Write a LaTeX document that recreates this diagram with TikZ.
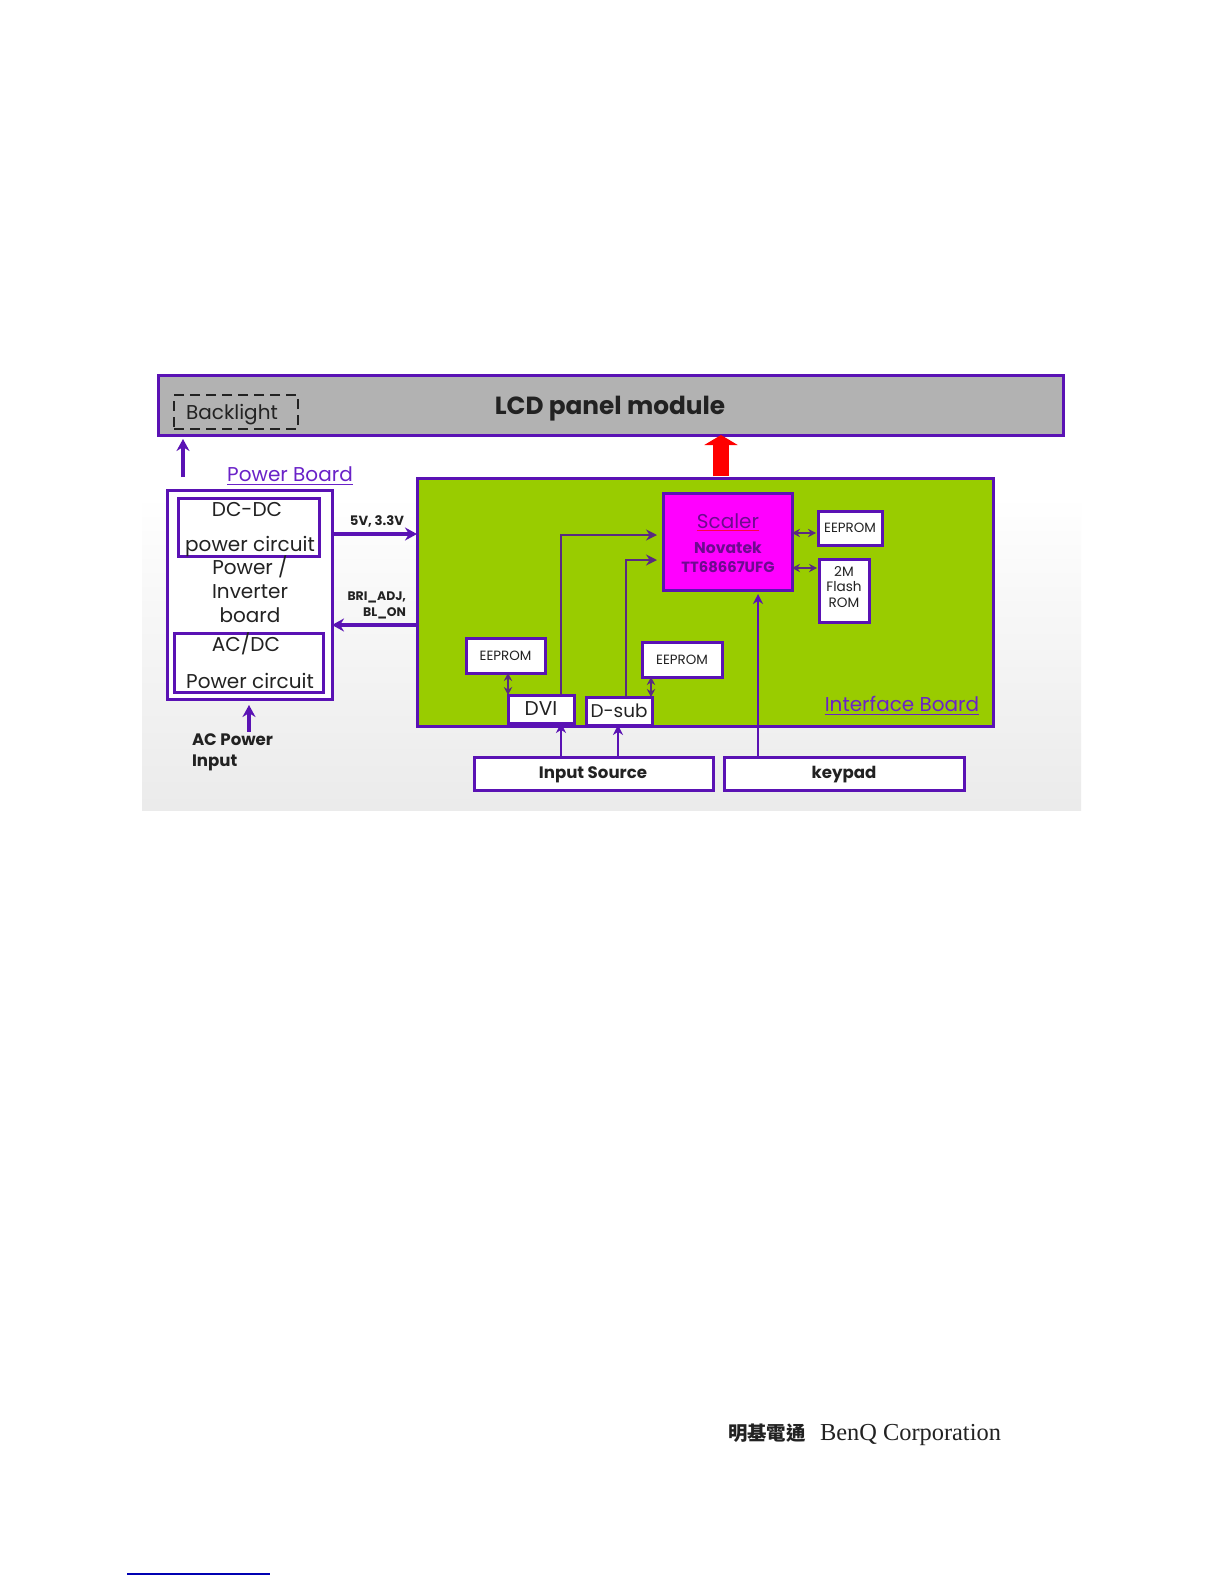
\documentclass[tikz,border=0pt]{standalone}
\usepackage{fontspec}
\setmainfont{Poppins}
\newfontfamily\cjkfont{Noto Sans CJK TC}
\newfontfamily\serifcorp{Liberation Serif}
\usetikzlibrary{arrows.meta,calc}
\definecolor{vio}{HTML}{5A12B4}
\definecolor{vtext}{HTML}{6A22C8}
\definecolor{lime}{HTML}{99CC00}
\definecolor{mag}{HTML}{FF00FF}
\definecolor{panel}{HTML}{B2B2B2}
\definecolor{ink}{HTML}{222222}
\definecolor{scink}{HTML}{6E0A90}
\definecolor{inner}{HTML}{5A2A80}
\pgfdeclareverticalshading{bgshade}{100bp}{color(0bp)=(white!95!black); color(20bp)=(white!91!black); color(48bp)=(white!97!black); color(60bp)=(white); color(100bp)=(white)}
\tikzset{
  x=0.5pt,y=-0.5pt,
  box/.style={draw=vio,line width=1.5pt,fill=white,inner sep=0pt,outer sep=0pt,text=ink,align=center},
  txt/.style={inner sep=0pt,outer sep=0pt,text=ink,align=center},
  arr/.style={draw=vio,line width=1.6pt,-{Stealth[length=6pt,width=6.5pt]}},
  in arr/.style={draw=inner,line width=1.3pt,-{Stealth[length=5.5pt,width=5.5pt]}},
  thin arr/.style={draw=vio,line width=1.2pt,-{Stealth[length=5pt,width=5pt]}},
  dbl/.style={draw=inner,line width=1pt,{Stealth[length=4pt,width=4.2pt]}-{Stealth[length=4pt,width=4.2pt]}},
  big/.style={font=\fontsize{10}{12}\selectfont},
  small/.style={font=\fontsize{6.7}{8}\selectfont},
  strong/.style={font=\fontsize{8.3}{10}\selectfont\bfseries},
}
\newcommand{\pxbox}[7][]{%
  \pgfmathsetmacro{\bw}{(#5-#3)*0.5}%
  \pgfmathsetmacro{\bh}{(#6-#4)*0.5}%
  \node[box,minimum width=\bw pt,minimum height=\bh pt,#1] (#2) at ({(#3+#5)/2},{(#4+#6)/2}) {#7};}
\begin{document}
\begin{tikzpicture}
\useasboundingbox (0,0) rectangle (1224,1584);
\fill[white] (0,0) rectangle (1224,1584);
\shade[shading=bgshade] (142,360) rectangle (1081,810);

% panel
\pxbox[fill=panel]{lcd}{158}{375}{1063}{435}{}
\pxbox[draw=ink,dashed,fill=none,line width=1.3pt,dash pattern=on 5pt off 3pt]{back}{174}{395}{298}{429}{}
\node[txt,big] (backt) at (232,415) {Backlight};
\node[txt,font=\fontsize{12.4}{15}\selectfont\bfseries] (lcdt) at (610,409) {LCD panel module};

% power board
\node[txt,text=vtext,font=\fontsize{10}{12}\selectfont] (pbt) at (290,474) {Power Board};
\draw[vtext,line width=0.6pt] (pbt.south west) ++(0,3) coordinate (pbl) -- (pbl -| pbt.south east);
\pxbox{pow}{167}{490}{332}{699}{}
\pxbox[fill=none]{dc}{178}{498}{319}{556}{}
\node[txt,big] (dct1) at (247,509) {DC-DC};
\node[txt,big] (dct2) at (250,546) {power circuit};
\node[txt,font=\fontsize{10}{11.9}\selectfont] (pit) at (250,589) {Power /\\Inverter\\board};
\pxbox[fill=none]{ac}{174}{633}{323}{692}{}
\node[txt,big] (act1) at (246,644) {AC/DC};
\node[txt,big] (act2) at (250,681) {Power circuit};
\node[txt,align=left,anchor=west,font=\fontsize{8.3}{10.4}\selectfont\bfseries] (acin) at (192,752) {AC Power\\Input};

% interface board
\pxbox[fill=lime]{ifb}{417}{478}{993}{726}{}
\node[txt,text=vtext,font=\fontsize{10}{12}\selectfont] (ifbt) at (902,704) {Interface Board};
\draw[vtext,line width=0.6pt] (ifbt.south west) ++(0,3) coordinate (ifl) -- (ifl -| ifbt.south east);
\pxbox[fill=mag]{scaler}{663}{493}{792}{590}{}
\node[txt,text=scink,font=\fontsize{10}{12}\selectfont] (sct1) at (728,521) {Scaler};
\draw[red!70!mag,line width=0.6pt] (sct1.south west) ++(0,2) coordinate (scl) -- (scl -| sct1.south east);
\node[txt,text=scink,font=\fontsize{7.8}{10}\selectfont\bfseries] (sct2) at (728,548) {Novatek};
\node[txt,text=scink,font=\fontsize{7.4}{10}\selectfont\bfseries] (sct3) at (728,567) {TT68667UFG};
\pxbox[small]{ee1}{818}{511}{882}{545}{EEPROM}
\pxbox{flash}{819}{559}{869}{622}{}
\node[txt,font=\fontsize{6.8}{7.7}\selectfont] (flasht) at (844,587) {2M\\Flash\\ROM};
\pxbox[small]{ee2}{466}{638}{545}{673}{EEPROM}
\pxbox[small]{ee3}{642}{642}{722}{677}{EEPROM}
\pxbox[big]{dvi}{508}{695}{574}{723}{DVI}
\pxbox[font=\fontsize{9.2}{12}\selectfont]{dsub}{586}{697}{652}{725}{D-sub}
\pxbox{src}{474}{757}{713}{790}{}
\node[txt,strong] (srct) at (593,775) {Input Source};
\pxbox{key}{724}{757}{964}{790}{}
\node[txt,strong] (keyt) at (844,775) {keypad};

% labels
\node[txt,font=\fontsize{6.6}{8}\selectfont\bfseries] (v5) at (377,521) {5V, 3.3V};
\node[txt,align=right,anchor=east,font=\fontsize{6.2}{8.4}\selectfont\bfseries] (bri) at (406,605.5) {BRI\_ADJ,\\BL\_ON};

% connector guide coordinates
\coordinate (blx) at (183,439);
\coordinate (acx) at (249,705);
\coordinate (py5) at (332,534);
\coordinate (pybr) at (332,625);
\coordinate (dvix) at (561,535);
\coordinate (dsx) at (626,560);
\coordinate (in1) at (561,757);
\coordinate (in2) at (618,757);
\coordinate (kx) at (758,757);
\coordinate (rx) at (721,478);
\coordinate (ex1) at (508,680);
\coordinate (ex3) at (651,680);
\coordinate (ds1) at (800,533);
\coordinate (ds2) at (800,568);

% connectors
\draw[arr] (blx |- pow.north) ++(0,-13) coordinate (blb) -- (blx);
\draw[arr,shorten >=3pt] (acin.north -| acx) ++(0,-2) coordinate (acb) -- (pow.south -| acx);
\draw[arr] (pow.east |- py5) -- (ifb.west |- py5);
\draw[arr] (ifb.west |- pybr) -- (pow.east |- pybr);
\draw[in arr,shorten >=3pt] (dvi.north -| dvix) |- (scaler.west |- dvix);
\draw[in arr,shorten >=3pt] (dsub.north -| dsx) |- (scaler.west |- dsx);
\draw[thin arr,shorten >=2pt] (key.north -| kx) -- (scaler.south -| kx);
\draw[thin arr] (src.north -| in1) -- (dvi.south -| in1);
\draw[thin arr] (src.north -| in2) -- (dsub.south -| in2);
\draw[dbl] (dvi.north -| ex1) -- (ee2.south -| ex1);
\draw[dbl] (dsub.north -| ex3) -- (ee3.south -| ex3);
\draw[dbl,shorten >=1pt] (scaler.east |- ds1) -- (ee1.west |- ds1);
\draw[dbl,shorten >=1pt] (scaler.east |- ds2) -- (flash.west |- ds2);
\draw[draw=red,line width=8pt,shorten <=0.8pt,-{Triangle[length=5pt,width=16.5pt]}] (ifb.north -| rx) -- (lcd.south -| rx);

% footer
\node[txt,anchor=west,font=\fontsize{9.7}{11}\selectfont\cjkfont\bfseries] (cjk) at (728,1433) {明基電通};
\node[txt,anchor=west,font=\fontsize{12.2}{14}\selectfont\serifcorp] (corp) at (820,1435) {BenQ Corporation};
\coordinate (fl) at (127,1574);
\coordinate (fr) at (270,1574);
\draw[blue!70!black,line width=0.6pt] (fl) -- (fr);
\end{tikzpicture}
\end{document}
